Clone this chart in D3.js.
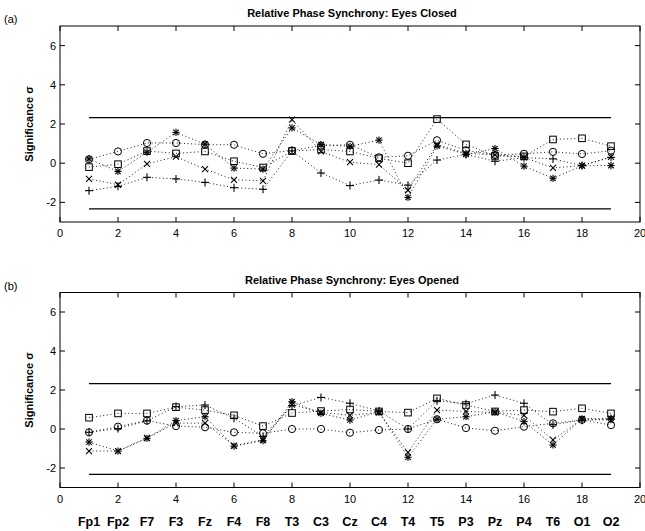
<!DOCTYPE html>
<html>
<head>
<meta charset="utf-8">
<script src="https://cdn.jsdelivr.net/npm/d3@7"></script>
<style>
  html, body { margin: 0; padding: 0; background: #fff; }
  svg { display: block; font-family: "Liberation Sans", Arial, Helvetica, sans-serif; }
</style>
</head>
<body>
<svg id="chart" width="645" height="531"></svg>
<script>
// Electrode index 1..19 and channel names
const electrodes = d3.range(1, 20);
const channels = ["Fp1","Fp2","F7","F3","Fz","F4","F8","T3","C3","Cz","C4","T4","T5","P3","Pz","P4","T6","O1","O2"];
const xTicks = [0, 2, 4, 6, 8, 10, 12, 14, 16, 18, 20];
const yTicks = [-2, 0, 2, 4, 6];
const threshold = 2.33;

// Eyes closed: significance per marker series
const closedCircle = [0.2, 0.6, 1.03, 1.03, 0.95, 0.94, 0.48, 0.65, 0.9, 0.94, 0.3, 0.38, 1.17, 0.66, 0.42, 0.48, 0.58, 0.47, 0.64];
const closedSquare = [-0.2, -0.05, 0.62, 0.5, 0.6, 0.1, -0.22, 0.62, 0.7, 0.6, 0.25, 0.0, 2.25, 0.96, 0.37, 0.35, 1.21, 1.27, 0.87];
const closedCross  = [-0.8, -1.1, -0.03, 0.33, -0.3, -0.85, -0.9, 2.22, 0.6, 0.05, -0.07, -1.38, 0.95, 0.5, 0.43, 0.3, -0.24, -0.12, 0.32];
const closedPlus   = [-1.4, -1.18, -0.72, -0.8, -0.98, -1.25, -1.33, 0.63, -0.5, -1.14, -0.86, -1.12, 0.16, 0.45, 0.1, 0.28, 0.22, -0.12, 0.3];
const closedStar   = [0.22, -0.42, 0.56, 1.57, 0.97, -0.25, -0.3, 1.8, 0.95, 0.86, 1.18, -1.75, 0.88, 0.45, 0.75, -0.15, -0.77, -0.13, -0.12];

// Eyes opened: significance per marker series
const openCircle = [-0.17, 0.12, 0.43, 0.15, 0.09, -0.17, -0.22, 0.0, 0.0, -0.19, -0.05, 0.0, 0.5, 0.05, -0.09, 0.12, 0.29, 0.47, 0.2];
const openSquare = [0.58, 0.8, 0.8, 1.12, 0.97, 0.7, 0.15, 0.82, 0.92, 1.0, 0.9, 0.84, 1.57, 1.23, 0.9, 0.97, 0.89, 1.06, 0.8];
const openCross  = [-1.13, -1.13, -0.45, 0.3, 0.3, -0.85, -0.55, 1.25, 0.85, 0.7, 0.85, -1.2, 0.97, 0.9, 0.85, 0.7, -0.56, 0.52, 0.45];
const openPlus   = [-0.17, 0.02, 0.42, 1.15, 1.23, 0.55, -0.38, 1.2, 1.62, 1.32, 0.92, 0.0, 1.45, 1.3, 1.74, 1.32, 0.22, 0.45, 0.5];
const openStar   = [-0.67, -1.13, -0.48, 0.43, 0.63, -0.88, -0.6, 1.4, 0.8, 0.46, 0.88, -1.45, 0.5, 0.63, 0.88, 0.38, -0.82, 0.52, 0.55];

const panels = [
  { tag: "(a)", title: "Relative Phase Synchrony: Eyes Closed", top: 26, bottom: 222,
    series: [["circle", closedCircle], ["square", closedSquare], ["cross", closedCross], ["plus", closedPlus], ["star", closedStar]] },
  { tag: "(b)", title: "Relative Phase Synchrony: Eyes Opened", top: 292.5, bottom: 487.5,
    series: [["circle", openCircle], ["square", openSquare], ["cross", openCross], ["plus", openPlus], ["star", openStar]] }
];

const svg = d3.select("#chart");
const left = 60, right = 640;
const x = d3.scaleLinear().domain([0, 20]).range([left, right]);

function marker(g, kind, cx, cy) {
  const s = 3.6;
  const st = { stroke: "#000", "stroke-width": 1, fill: "none" };
  const seg = (x1, y1, x2, y2) => g.append("line")
    .attr("x1", cx + x1).attr("y1", cy + y1).attr("x2", cx + x2).attr("y2", cy + y2)
    .attr("stroke", "#000").attr("stroke-width", 1.1);
  if (kind === "circle") {
    g.append("circle").attr("cx", cx).attr("cy", cy).attr("r", 3.6)
      .attr("stroke", st.stroke).attr("stroke-width", 1).attr("fill", "none");
  } else if (kind === "square") {
    g.append("rect").attr("x", cx - 3.3).attr("y", cy - 3.3).attr("width", 6.6).attr("height", 6.6)
      .attr("stroke", "#000").attr("stroke-width", 1).attr("fill", "none");
  } else if (kind === "cross") {
    seg(-3, -3, 3, 3); seg(-3, 3, 3, -3);
  } else if (kind === "plus") {
    seg(-4, 0, 4, 0); seg(0, -4, 0, 4);
  } else if (kind === "star") {
    seg(-s, 0, s, 0); seg(0, -s, 0, s);
    seg(-2.7, -2.7, 2.7, 2.7); seg(-2.7, 2.7, 2.7, -2.7);
  }
}

panels.forEach(p => {
  const y = d3.scaleLinear().domain([-3, 7]).range([p.bottom, p.top]);
  const g = svg.append("g");

  // frame
  g.append("rect").attr("x", left).attr("y", p.top).attr("width", right - left).attr("height", p.bottom - p.top)
    .attr("fill", "none").attr("stroke", "#000").attr("stroke-width", 1);

  // inward ticks on all four sides
  const tl = 5;
  xTicks.forEach(t => {
    g.append("line").attr("x1", x(t)).attr("x2", x(t)).attr("y1", p.bottom).attr("y2", p.bottom - tl).attr("stroke", "#000");
    g.append("line").attr("x1", x(t)).attr("x2", x(t)).attr("y1", p.top).attr("y2", p.top + tl).attr("stroke", "#000");
    g.append("text").attr("x", x(t)).attr("y", p.bottom + 15).attr("text-anchor", "middle")
      .attr("font-size", 11).text(t);
  });
  yTicks.forEach(t => {
    g.append("line").attr("x1", left).attr("x2", left + tl).attr("y1", y(t)).attr("y2", y(t)).attr("stroke", "#000");
    g.append("line").attr("x1", right).attr("x2", right - tl).attr("y1", y(t)).attr("y2", y(t)).attr("stroke", "#000");
    g.append("text").attr("x", left - 4).attr("y", y(t) + 4).attr("text-anchor", "end")
      .attr("font-size", 11).text(t);
  });

  // significance thresholds
  [threshold, -threshold].forEach(v => {
    g.append("line").attr("x1", x(1)).attr("x2", x(19)).attr("y1", y(v)).attr("y2", y(v))
      .attr("stroke", "#000").attr("stroke-width", 1.2);
  });

  // dotted series lines
  const line = d3.line().x((d, i) => x(electrodes[i])).y(d => y(d));
  p.series.forEach(([kind, vals]) => {
    g.append("path").attr("d", line(vals)).attr("fill", "none")
      .attr("stroke", "#000").attr("stroke-width", 0.9).attr("stroke-dasharray", "1,2.6");
  });
  p.series.forEach(([kind, vals]) => {
    vals.forEach((v, i) => marker(g, kind, x(electrodes[i]), y(v)));
  });

  // titles and labels
  g.append("text").attr("x", (left + right) / 2 + 2).attr("y", p.top - 9).attr("text-anchor", "middle")
    .attr("font-size", 11).attr("font-weight", "bold").text(p.title);
  g.append("text").attr("x", 4).attr("y", p.top - 3).attr("font-size", 11).text(p.tag);
  g.append("text")
    .attr("transform", `translate(33,${(p.top + p.bottom) / 2}) rotate(-90)`)
    .attr("text-anchor", "middle").attr("font-size", 11).attr("font-weight", "bold")
    .text("Significance σ");
});

// channel names under the lower panel
svg.append("g").selectAll("text").data(channels).join("text")
  .attr("x", (d, i) => x(electrodes[i]))
  .attr("y", 526)
  .attr("text-anchor", "middle")
  .attr("font-size", 12.5)
  .attr("font-weight", "bold")
  .text(d => d);
</script>
</body>
</html>
